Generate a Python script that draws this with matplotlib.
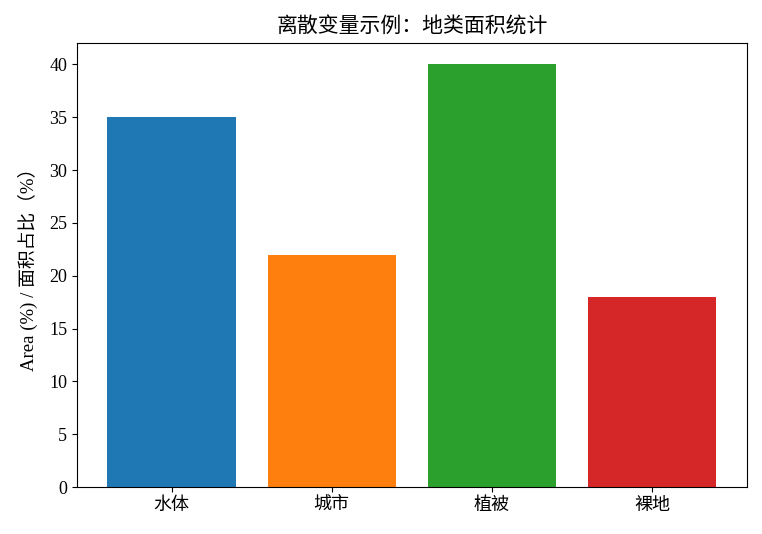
import matplotlib
matplotlib.use("Agg")
import matplotlib.pyplot as plt

plt.rcParams['font.family'] = ['Liberation Serif', 'Noto Sans CJK SC']
plt.rcParams['axes.unicode_minus'] = False

# data
categories = ['水体', '城市', '植被', '裸地']
areas = [35, 22, 40, 18]
colors = ['#1f77b4', '#ff7f0e', '#2ca02c', '#d62728']

fig = plt.figure(figsize=(7.62, 5.34), dpi=100)
ax = fig.add_axes([0.101, 0.088, 0.879, 0.831])
ax.bar(categories, areas, color=colors, width=0.8)
ax.set_title('离散变量示例：地类面积统计', fontsize=15, pad=8)
ax.set_ylabel('Area (%) / 面积占比（%）', fontsize=13.5, labelpad=8)
ax.tick_params(labelsize=13)

fig.savefig('out.png', dpi=100)
